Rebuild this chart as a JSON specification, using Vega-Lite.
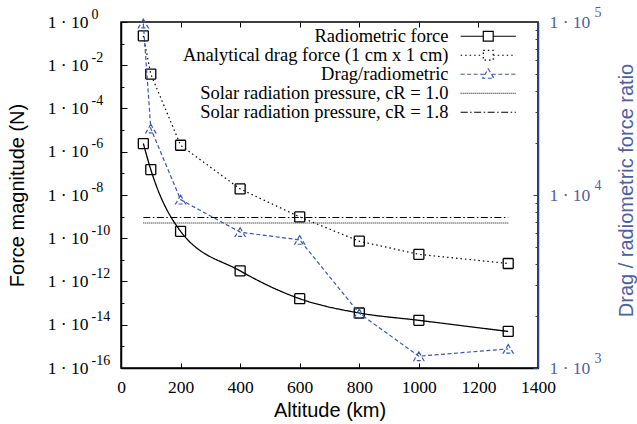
{
  "$schema": "https://vega.github.io/schema/vega-lite/v6.json",
  "width": 417,
  "height": 346,
  "autosize": {"type": "none"},
  "padding": {"left": 121, "top": 22, "right": 99, "bottom": 56},
  "background": "white",
  "config": {
    "font": "Liberation Serif",
    "view": {"stroke": "black", "strokeWidth": 1.5},
    "style": {
      "guide-label": {"font": "Liberation Serif", "fontSize": 17.5},
      "guide-title": {"font": "Liberation Sans", "fontSize": 20, "fontWeight": "normal"}
    },
    "axis": {
      "grid": false,
      "labelFlush": false,
      "labelOverlap": false,
      "domainColor": "black",
      "domainWidth": 1.5,
      "tickColor": "black",
      "tickWidth": 1,
      "labelFont": "Liberation Serif",
      "labelFontSize": 17.5,
      "labelColor": "black",
      "titleFont": "Liberation Sans",
      "titleFontSize": 20,
      "titleFontWeight": "normal",
      "titleColor": "black"
    },
    "legend": {
      "labelFont": "Liberation Serif",
      "labelFontSize": 18.5,
      "labelColor": "black"
    }
  },
  "datasets": {
    "forces": [
      {"series": "Radiometric force", "alt": 75, "value": 2.4e-6},
      {"series": "Radiometric force", "alt": 100, "value": 1.5e-7},
      {"series": "Radiometric force", "alt": 200, "value": 2.1e-10},
      {"series": "Radiometric force", "alt": 400, "value": 3.1e-12},
      {"series": "Radiometric force", "alt": 600, "value": 1.6e-13},
      {"series": "Radiometric force", "alt": 800, "value": 3.5e-14},
      {"series": "Radiometric force", "alt": 1000, "value": 1.6e-14},
      {"series": "Radiometric force", "alt": 1300, "value": 4.9e-15},
      {"series": "Analytical drag force (1 cm x 1 cm)", "alt": 75, "value": 0.23},
      {"series": "Analytical drag force (1 cm x 1 cm)", "alt": 100, "value": 3.9e-3},
      {"series": "Analytical drag force (1 cm x 1 cm)", "alt": 200, "value": 2.0e-6},
      {"series": "Analytical drag force (1 cm x 1 cm)", "alt": 400, "value": 1.9e-8},
      {"series": "Analytical drag force (1 cm x 1 cm)", "alt": 600, "value": 9.7e-10},
      {"series": "Analytical drag force (1 cm x 1 cm)", "alt": 800, "value": 7.3e-11},
      {"series": "Analytical drag force (1 cm x 1 cm)", "alt": 1000, "value": 1.8e-11},
      {"series": "Analytical drag force (1 cm x 1 cm)", "alt": 1300, "value": 6.8e-12}
    ],
    "solar": [
      {"series": "Solar radiation pressure, cR = 1.0", "alt": 75, "value": 5.06e-10},
      {"series": "Solar radiation pressure, cR = 1.0", "alt": 1300, "value": 5.06e-10},
      {"series": "Solar radiation pressure, cR = 1.8", "alt": 75, "value": 9.1e-10},
      {"series": "Solar radiation pressure, cR = 1.8", "alt": 1300, "value": 9.1e-10}
    ],
    "ratio": [
      {"series": "Drag/radiometric", "alt": 75, "ratio": 98000},
      {"series": "Drag/radiometric", "alt": 100, "ratio": 24200},
      {"series": "Drag/radiometric", "alt": 200, "ratio": 9400},
      {"series": "Drag/radiometric", "alt": 400, "ratio": 6100},
      {"series": "Drag/radiometric", "alt": 600, "ratio": 5500},
      {"series": "Drag/radiometric", "alt": 800, "ratio": 2070},
      {"series": "Drag/radiometric", "alt": 1000, "ratio": 1170},
      {"series": "Drag/radiometric", "alt": 1300, "ratio": 1290}
    ]
  },
  "layer": [
    {
      "data": {"name": "forces"},
      "encoding": {
        "x": {
          "field": "alt", "type": "quantitative",
          "scale": {"domain": [0, 1400], "nice": false, "zero": false},
          "axis": {
            "orient": "bottom",
            "values": [0, 200, 400, 600, 800, 1000, 1200, 1400],
            "format": "d",
            "labelFont": "Liberation Serif",
            "labelFontSize": 17.5,
            "tickSize": -5,
            "labelPadding": 15,
            "title": "Altitude (km)",
            "titleFont": "Liberation Sans",
            "titlePadding": 5
          }
        },
        "y": {
          "field": "value", "type": "quantitative",
          "scale": {"type": "log", "domain": [1e-16, 1], "nice": false},
          "axis": {
            "orient": "left",
            "values": [1, 0.1, 0.01, 0.001, 0.0001, 1e-5, 1e-6, 1e-7, 1e-8, 1e-9, 1e-10, 1e-11, 1e-12, 1e-13, 1e-14, 1e-15, 1e-16],
            "labelExpr": "round(-log(datum.value)/LN10) % 2 == 0 ? '1 · 10' : ''",
            "labelFont": "Liberation Serif",
            "labelFontSize": 17.5,
            "tickSize": {"condition": {"test": "round(-log(datum.value)/LN10) % 2 == 0", "value": -6}, "value": -3},
            "labelPadding": 39,
            "title": "Force magnitude (N)",
            "titleFont": "Liberation Sans",
            "titleX": -94,
            "titleY": 173
          }
        },
        "color": {
          "field": "series", "type": "nominal",
          "scale": {
            "domain": ["Radiometric force", "Analytical drag force (1 cm x 1 cm)", "Drag/radiometric", "Solar radiation pressure, cR = 1.0", "Solar radiation pressure, cR = 1.8"],
            "range": ["black", "black", "#3a58a8", "black", "black"]
          },
          "legend": {
            "title": null,
            "orient": "none",
            "legendX": 358,
            "legendY": 5,
            "padding": 0,
            "labelAlign": "right",
            "labelOffset": -49,
            "labelLimit": 500,
            "labelFont": "Liberation Serif",
            "labelFontSize": 18.5,
            "symbolSize": 256,
            "symbolStrokeWidth": 1.2,
            "symbolFillColor": "transparent",
            "rowPadding": 0,
            "symbolType": {"expr": "(datum.value == 'Radiometric force' || datum.value == 'Analytical drag force (1 cm x 1 cm)') ? 'M-3.45,0H-0.62M-0.62,-0.62H0.62V0.62H-0.62ZM0.62,0H3.45' : datum.value == 'Drag/radiometric' ? 'M-3.45,0H-0.45M0.45,0H3.45M0,-0.68L0.7,0.5H-0.7Z' : 'M-3.45,0H3.45'"}
          }
        },
        "strokeDash": {
          "field": "series", "type": "nominal",
          "scale": {
            "domain": ["Radiometric force", "Analytical drag force (1 cm x 1 cm)", "Drag/radiometric", "Solar radiation pressure, cR = 1.0", "Solar radiation pressure, cR = 1.8"],
            "range": [[1, 0], [1.5, 3], [4, 2.5], [1, 1], [7, 2.5, 1.5, 2.5]]
          },
          "legend": {
            "title": null,
            "orient": "none",
            "legendX": 358,
            "legendY": 5,
            "padding": 0,
            "labelAlign": "right",
            "labelOffset": -49,
            "labelLimit": 500,
            "labelFont": "Liberation Serif",
            "labelFontSize": 18.5,
            "symbolSize": 256,
            "symbolStrokeWidth": 1.2,
            "symbolFillColor": "transparent",
            "rowPadding": 0,
            "symbolType": {"expr": "(datum.value == 'Radiometric force' || datum.value == 'Analytical drag force (1 cm x 1 cm)') ? 'M-3.45,0H-0.62M-0.62,-0.62H0.62V0.62H-0.62ZM0.62,0H3.45' : datum.value == 'Drag/radiometric' ? 'M-3.45,0H-0.45M0.45,0H3.45M0,-0.68L0.7,0.5H-0.7Z' : 'M-3.45,0H3.45'"}
          }
        }
      },
      "layer": [
        {
          "transform": [{"filter": "datum.series == 'Radiometric force'"}],
          "mark": {"type": "line", "interpolate": "monotone", "strokeWidth": 1.3}
        },
        {
          "transform": [{"filter": "datum.series != 'Radiometric force'"}],
          "mark": {"type": "line", "strokeWidth": 1.2}
        },
        {
          "mark": {"type": "point", "shape": "square", "size": 100, "filled": false, "strokeWidth": 1.3, "opacity": 1},
          "encoding": {"strokeDash": {"value": [1, 0]}}
        }
      ]
    },
    {
      "data": {"name": "solar"},
      "mark": {"type": "line", "strokeWidth": 1.1},
      "encoding": {
        "x": {
          "field": "alt", "type": "quantitative",
          "scale": {"domain": [0, 1400], "nice": false, "zero": false},
          "axis": null
        },
        "y": {
          "field": "value", "type": "quantitative",
          "scale": {"type": "log", "domain": [1e-16, 1], "nice": false},
          "axis": {
            "orient": "left",
            "values": [1, 0.01, 0.0001, 1e-6, 1e-8, 1e-10, 1e-12, 1e-14, 1e-16],
            "labelExpr": "'' + round(log(datum.value)/LN10)",
            "labelFont": "Liberation Serif",
            "labelFontSize": 14,
            "labelAlign": "left",
            "labelBaseline": "middle",
            "labelOffset": -8,
            "labelPadding": 30,
            "ticks": false,
            "domain": false,
            "title": null
          }
        },
        "color": {"field": "series", "type": "nominal"},
        "strokeDash": {"field": "series", "type": "nominal"}
      }
    },
    {
      "data": {"name": "ratio"},
      "mark": {"type": "line", "strokeWidth": 1.2},
      "encoding": {
        "x": {
          "field": "alt", "type": "quantitative",
          "scale": {"domain": [0, 1400], "nice": false, "zero": false},
          "axis": {
            "orient": "top",
            "values": [0, 200, 400, 600, 800, 1000, 1200, 1400],
            "tickSize": -5,
            "labels": false,
            "domain": false,
            "title": null
          }
        },
        "y": {
          "field": "ratio", "type": "quantitative",
          "scale": {"type": "log", "domain": [1000, 100000], "nice": false},
          "axis": {
            "orient": "right",
            "values": [1000, 2000, 3000, 4000, 5000, 6000, 7000, 8000, 9000, 10000, 20000, 30000, 40000, 50000, 60000, 70000, 80000, 90000, 100000],
            "labelExpr": "(datum.value == 1000 || datum.value == 10000 || datum.value == 100000) ? '1 · 10' : ''",
            "labelFont": "Liberation Serif",
            "labelFontSize": 17.5,
            "tickSize": {"condition": {"test": "datum.value == 1000 || datum.value == 10000 || datum.value == 100000", "value": -5}, "value": -3},
            "tickColor": "#2f4274",
            "domainColor": "#2f4274",
            "labelColor": "#4d5f9e",
            "labelPadding": 16,
            "title": "Drag / radiometric force ratio",
            "titleFont": "Liberation Sans",
            "titleColor": "#4d5f9e",
            "titleAngle": 270,
            "titleBaseline": "bottom",
            "titleX": 98,
            "titleY": 168
          }
        },
        "color": {"field": "series", "type": "nominal"},
        "strokeDash": {"field": "series", "type": "nominal"}
      }
    },
    {
      "data": {"name": "ratio"},
      "mark": {"type": "point", "shape": "triangle-up", "size": 100, "filled": false, "strokeWidth": 1.2, "opacity": 1},
      "encoding": {
        "x": {
          "field": "alt", "type": "quantitative",
          "scale": {"domain": [0, 1400], "nice": false, "zero": false},
          "axis": null
        },
        "y": {
          "field": "ratio", "type": "quantitative",
          "scale": {"type": "log", "domain": [1000, 100000], "nice": false},
          "axis": {
            "orient": "right",
            "values": [1000, 10000, 100000],
            "labelExpr": "'' + round(log(datum.value)/LN10)",
            "labelFont": "Liberation Serif",
            "labelFontSize": 14,
            "labelAlign": "left",
            "labelBaseline": "middle",
            "labelOffset": -10,
            "labelPadding": 56,
            "labelColor": "#4d5f9e",
            "ticks": false,
            "domain": false,
            "title": null
          }
        },
        "color": {"field": "series", "type": "nominal"},
        "strokeDash": {"field": "series", "type": "nominal"}
      }
    }
  ],
  "resolve": {"scale": {"x": "independent", "y": "independent"}}
}
